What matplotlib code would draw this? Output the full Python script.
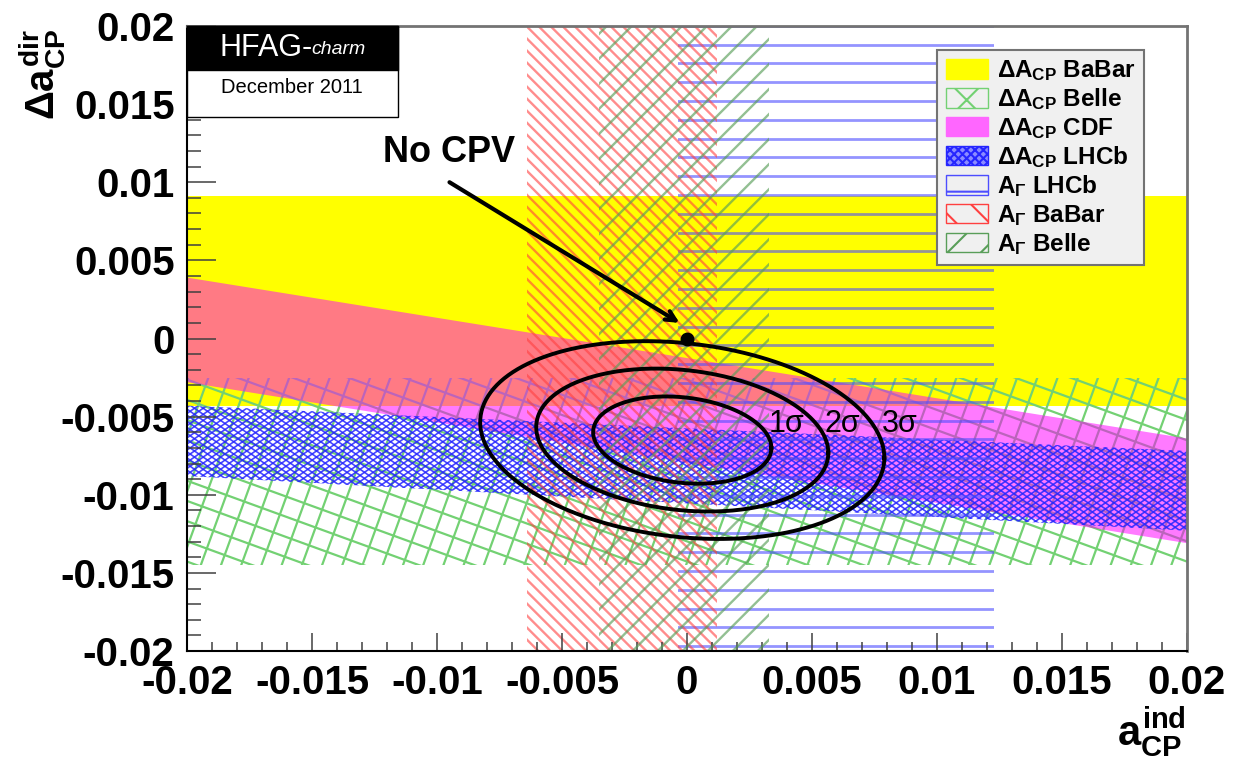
import numpy as np
import matplotlib
matplotlib.use('Agg')
import matplotlib.pyplot as plt
from matplotlib.patches import Polygon, Rectangle, Patch
from matplotlib.collections import LineCollection
from matplotlib.transforms import IdentityTransform

plt.rcParams['font.family'] = ['Liberation Sans', 'DejaVu Sans']
plt.rcParams['mathtext.fontset'] = 'custom'
plt.rcParams['mathtext.rm'] = 'Liberation Sans:bold'
plt.rcParams['mathtext.it'] = 'Liberation Sans:bold'
plt.rcParams['mathtext.bf'] = 'Liberation Sans:bold'
plt.rcParams['hatch.linewidth'] = 1.5

# x range of the plot (a_CP^ind)
x_edges = [-0.02, 0.02]

# Delta A_CP bands: lower / upper edge at a_ind = -0.02 and +0.02
babar_dacp_lo = [-0.0043, -0.0043]
babar_dacp_hi = [0.0091, 0.0091]
belle_dacp_lo = [-0.0145, -0.0145]
belle_dacp_hi = [-0.0025, -0.0025]
cdf_dacp_lo = [-0.0028, -0.0131]
cdf_dacp_hi = [0.0039, -0.0064]
lhcb_dacp_lo = [-0.0088, -0.0123]
lhcb_dacp_hi = [-0.0043, -0.0072]

# A_Gamma bands: a_ind interval
lhcb_agamma = [-0.00036, 0.0123]
babar_agamma = [-0.0064, 0.0012]
belle_agamma = [-0.0035, 0.0033]

# HFAG combined fit
fit_center = [-0.00019, -0.0065]
fit_sigma = [0.00235, 0.00184]
fit_rho = -0.18
dchi2 = [2.30, 6.18, 11.83]
cl_labels = ['1σ', '2σ', '3σ']
cl_label_x = [0.0040, 0.0062, 0.0085]
no_cpv = [0.0, 0.0]

xticks = [-0.02, -0.015, -0.01, -0.005, 0, 0.005, 0.01, 0.015, 0.02]
tick_labels = ['-0.02', '-0.015', '-0.01', '-0.005', '0', '0.005', '0.01', '0.015', '0.02']

YELLOW = (1, 1, 0)
MAGENTA = (1, 0, 1)
BELLE_G = (0.45, 0.82, 0.45)
BLUE = (0.15, 0.15, 1.0)
AG_BLUE = (0.3, 0.3, 1.0)
RED = (1.0, 0.25, 0.25)
AG_GREEN = (0.35, 0.62, 0.35)


def hatch(ax, patch, angle, step, color, lw, alpha=1.0):
    # draw parallel lines (screen angle, pixel step) clipped to patch
    bb = ax.bbox
    c = np.array([(bb.x0 + bb.x1) / 2, (bb.y0 + bb.y1) / 2])
    L = np.hypot(bb.width, bb.height)
    t = np.radians(angle)
    d = np.array([np.cos(t), np.sin(t)])
    n = np.array([-d[1], d[0]])
    segs = [[c + o * n - L * d, c + o * n + L * d] for o in np.arange(-L / 2, L / 2, step)]
    lc = LineCollection(segs, colors=[color], linewidths=lw, alpha=alpha,
                        transform=IdentityTransform(), zorder=patch.get_zorder())
    ax.add_collection(lc, autolim=False)
    lc.set_clip_path(patch)


def dacp_poly(lo, hi, **kw):
    return Polygon([(x_edges[0], lo[0]), (x_edges[1], lo[1]),
                    (x_edges[1], hi[1]), (x_edges[0], hi[0])], closed=True, **kw)


def agamma_poly(rng, **kw):
    return Polygon([(rng[0], -0.02), (rng[1], -0.02), (rng[1], 0.02), (rng[0], 0.02)],
                   closed=True, **kw)


fig = plt.figure(figsize=(12.33, 7.64), dpi=100)
ax = fig.add_axes([187 / 1233, 113 / 764, 1000 / 1233, 625 / 764])
ax.set_xlim(-0.02, 0.02)
ax.set_ylim(-0.02, 0.02)

# Delta A_CP BaBar
p = ax.add_patch(dacp_poly(babar_dacp_lo, babar_dacp_hi, facecolor=YELLOW, edgecolor='none', zorder=1))
# Delta A_CP Belle
p = ax.add_patch(dacp_poly(belle_dacp_lo, belle_dacp_hi, facecolor='none', edgecolor='none', zorder=1.1))
hatch(ax, p, -20, 19, BELLE_G, 1.6)
hatch(ax, p, 70, 19, BELLE_G, 1.6)
# Delta A_CP CDF
ax.add_patch(dacp_poly(cdf_dacp_lo, cdf_dacp_hi, facecolor=MAGENTA, alpha=0.52, edgecolor='none', zorder=1.2))
# Delta A_CP LHCb
p = ax.add_patch(dacp_poly(lhcb_dacp_lo, lhcb_dacp_hi, facecolor='none', edgecolor='none', zorder=1.3))
hatch(ax, p, 35, 5, BLUE, 1.2, 0.85)
hatch(ax, p, -35, 5, BLUE, 1.2, 0.85)
# A_Gamma LHCb
p = ax.add_patch(agamma_poly(lhcb_agamma, facecolor='none', edgecolor='none', zorder=1.4))
hatch(ax, p, 0, 18.8, AG_BLUE, 2.0, 0.6)
# A_Gamma BaBar
p = ax.add_patch(agamma_poly(babar_agamma, facecolor='none', edgecolor='none', zorder=1.5))
hatch(ax, p, -45, 8.5, RED, 1.7, 0.6)
# A_Gamma Belle
p = ax.add_patch(agamma_poly(belle_agamma, facecolor='none', edgecolor='none', zorder=1.6))
hatch(ax, p, 45, 17.7, AG_GREEN, 1.7, 0.65)

# fit contours
sx, sy = fit_sigma
cov = np.array([[sx ** 2, fit_rho * sx * sy], [fit_rho * sx * sy, sy ** 2]])
chol = np.linalg.cholesky(cov)
t = np.linspace(0, 2 * np.pi, 300)
circ = np.vstack([np.cos(t), np.sin(t)])
for d2 in dchi2:
    pts = np.sqrt(d2) * chol @ circ
    ax.plot(fit_center[0] + pts[0], fit_center[1] + pts[1], color='black', lw=2.8, zorder=5)
for lab, xl in zip(cl_labels, cl_label_x):
    ax.text(xl, -0.0055, lab, fontsize=22, ha='center', va='center', zorder=6)

ax.plot(no_cpv[0], no_cpv[1], 'o', color='black', ms=9, zorder=6)
ax.annotate('', xy=(-0.0003, 0.0010), xytext=(-0.0095, 0.0100),
            arrowprops=dict(arrowstyle='->,head_length=0.7,head_width=0.35', lw=3, color='black',
                            shrinkA=0, shrinkB=0), zorder=6)
ax.text(-0.0095, 0.0119, 'No CPV', fontsize=26, fontweight='bold', ha='center', va='center', zorder=6)

# axes styling
ax.set_xticks(xticks)
ax.set_xticklabels(tick_labels)
ax.set_yticks(xticks)
ax.set_yticklabels(tick_labels)
ax.set_xticks(np.arange(-0.02, 0.0201, 0.001), minor=True)
ax.set_yticks(np.arange(-0.02, 0.0201, 0.001), minor=True)
for lab in ax.get_xticklabels() + ax.get_yticklabels():
    lab.set_fontweight('bold')
ax.tick_params(axis='both', which='both', direction='in', colors='0.25', labelcolor='black',
               labelsize=29, pad=9, width=1.1)
ax.tick_params(axis='y', which='major', length=21)
ax.tick_params(axis='y', which='minor', length=10)
ax.tick_params(axis='x', which='major', length=13)
ax.tick_params(axis='x', which='minor', length=6.5)
for s in ['left', 'bottom']:
    ax.spines[s].set_linewidth(1.5)
for s in ['top', 'right']:
    ax.spines[s].set_color('0.45')
    ax.spines[s].set_linewidth(2)

# axis titles
fig.text(1186 / 1233, 5 / 764, r'$a_{CP}^{ind}$', fontsize=30, ha='right', va='bottom')
fig.text(42 / 1233, 1 - 28 / 764, r'$\Delta a_{CP}^{dir}$', fontsize=29, rotation=90,
         ha='center', va='top')

# legend
handles = [
    Patch(facecolor=YELLOW, edgecolor=YELLOW),
    Patch(facecolor='none', edgecolor=BELLE_G, hatch='x'),
    Patch(facecolor=(1, 0.4, 1), edgecolor=(1, 0.4, 1)),
    Patch(facecolor=(0.55, 0.55, 1), edgecolor=BLUE, hatch='xxxx'),
    Patch(facecolor='none', edgecolor=AG_BLUE, hatch='-'),
    Patch(facecolor='none', edgecolor=RED, hatch='\\'),
    Patch(facecolor='none', edgecolor=AG_GREEN, hatch='/'),
]
labels = ['Δ$A_{CP}$ BaBar', 'Δ$A_{CP}$ Belle', 'Δ$A_{CP}$ CDF', 'Δ$A_{CP}$ LHCb',
          '$A_{\\Gamma}$ LHCb', '$A_{\\Gamma}$ BaBar', '$A_{\\Gamma}$ Belle']
leg = ax.legend(handles, labels, loc='upper left', bbox_to_anchor=(0.75, 0.962),
                borderaxespad=0, fancybox=False, framealpha=1, facecolor='0.94', edgecolor='0.45',
                prop={'weight': 'bold', 'size': 17.5}, handlelength=1.75, handleheight=0.85,
                handletextpad=0.35, labelspacing=0.14, borderpad=0.35)
leg.get_frame().set_linewidth(1.5)
leg.set_zorder(10)

# HFAG logo box
ax.add_patch(Rectangle((0, 0.854), 0.211, 0.146, transform=ax.transAxes, facecolor='white',
                       edgecolor='black', lw=1, zorder=8, clip_on=False))
ax.add_patch(Rectangle((0, 0.9296), 0.211, 0.0704, transform=ax.transAxes, facecolor='black',
                       edgecolor='black', lw=1, zorder=8, clip_on=False))
ax.text(0.033, 0.964, 'HFAG-', transform=ax.transAxes, color='white', fontsize=22,
        ha='left', va='center', zorder=9)
ax.text(0.124, 0.962, 'charm', transform=ax.transAxes, color='white', fontsize=14,
        style='italic', ha='left', va='center', zorder=9)
ax.text(0.105, 0.902, 'December 2011', transform=ax.transAxes, color='black', fontsize=14.5,
        ha='center', va='center', zorder=9)

fig.savefig('out.png', dpi=100)
